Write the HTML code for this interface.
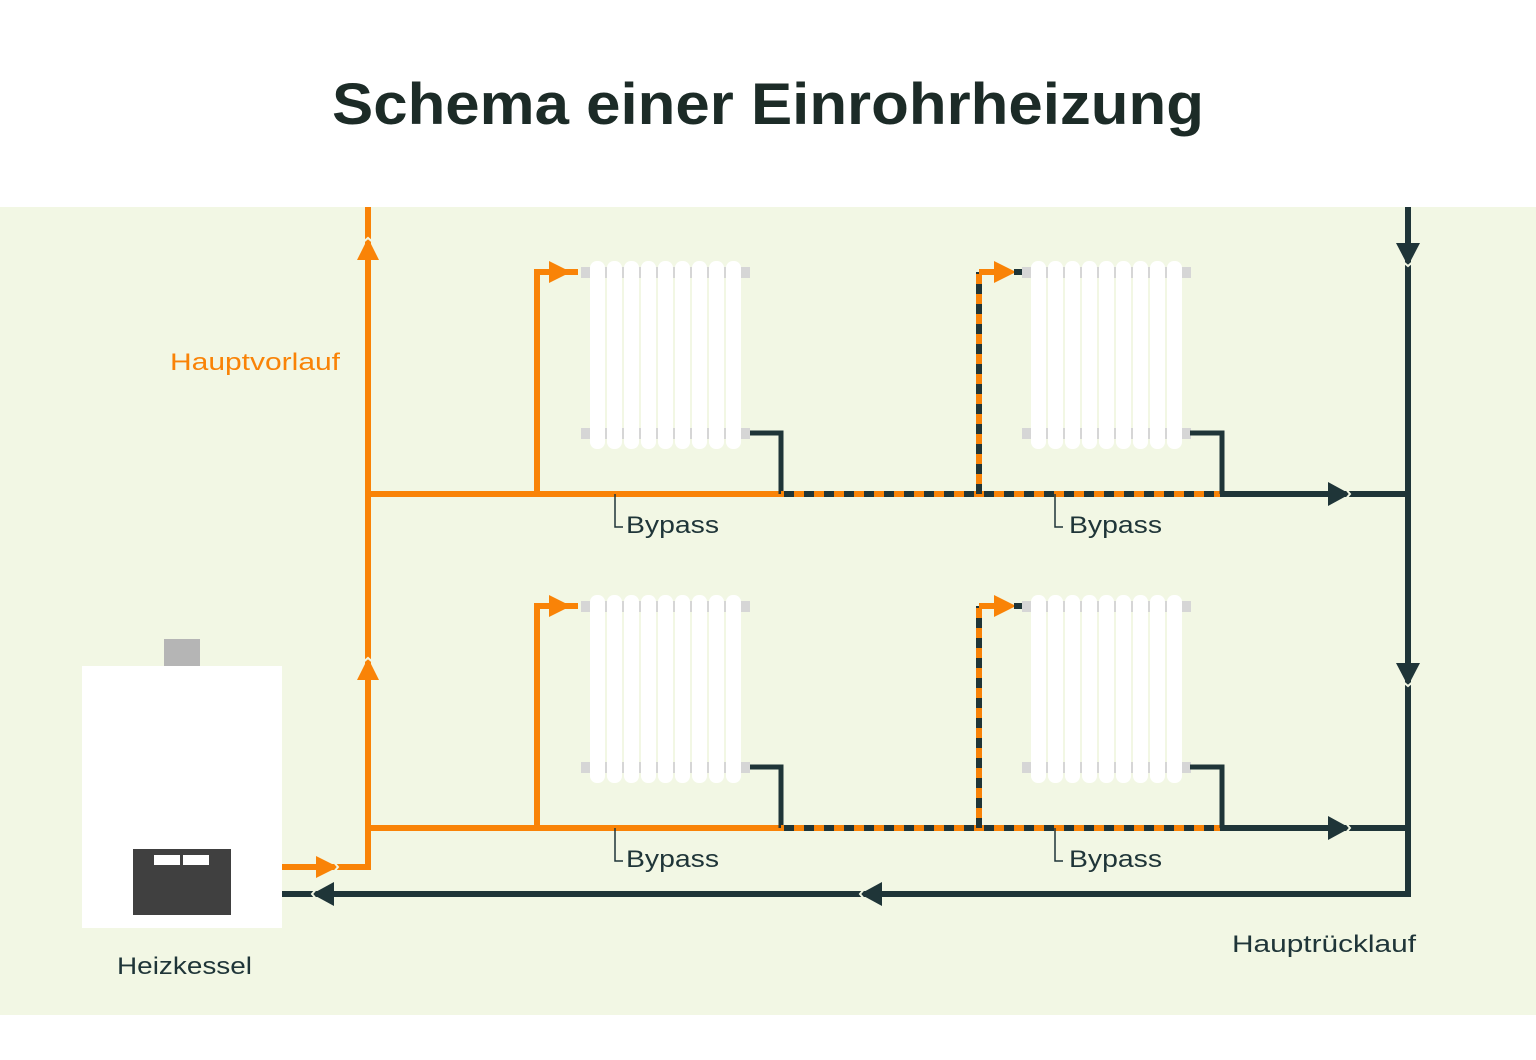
<!DOCTYPE html>
<html><head><meta charset="utf-8">
<style>
html,body{margin:0;padding:0;background:#fff;}
svg{display:block;}
text{font-family:"Liberation Sans",sans-serif;}
</style></head>
<body>
<svg width="1536" height="1060" viewBox="0 0 1536 1060" xmlns="http://www.w3.org/2000/svg">
<defs>
  <g id="rad">
    <rect x="581" y="267" width="169" height="11" fill="#d6d6d6"/>
    <rect x="581" y="428" width="169" height="11" fill="#d6d6d6"/>
    <g fill="#ffffff">
      <rect x="590" y="261" width="15" height="188" rx="7"/>
      <rect x="607" y="261" width="15" height="188" rx="7"/>
      <rect x="624" y="261" width="15" height="188" rx="7"/>
      <rect x="641" y="261" width="15" height="188" rx="7"/>
      <rect x="658" y="261" width="15" height="188" rx="7"/>
      <rect x="675" y="261" width="15" height="188" rx="7"/>
      <rect x="692" y="261" width="15" height="188" rx="7"/>
      <rect x="709" y="261" width="15" height="188" rx="7"/>
      <rect x="726" y="261" width="15" height="188" rx="7"/>
    </g>
  </g>
  <g id="rowA">
    <line x1="368" y1="494" x2="782" y2="494" stroke="#f98307" stroke-width="6"/>
    <polyline points="537,494 537,272 578,272" fill="none" stroke="#f98307" stroke-width="6"/>
    <polygon points="549,261 571,272 549,283" fill="#f98307"/>
    <use href="#rad"/>
    <polyline points="750,433 781,433 781,494" fill="none" stroke="#1f3538" stroke-width="5"/>
    <line x1="781" y1="494" x2="1220" y2="494" stroke="#f98307" stroke-width="6"/>
    <line x1="784" y1="494" x2="1220" y2="494" stroke="#1f3538" stroke-width="6" stroke-dasharray="10,10"/>
    <line x1="979" y1="494" x2="979" y2="272" stroke="#f98307" stroke-width="6"/>
    <line x1="979" y1="494" x2="979" y2="272" stroke="#1f3538" stroke-width="6" stroke-dasharray="10,10"/>
    <line x1="979" y1="272" x2="1000" y2="272" stroke="#f98307" stroke-width="6"/>
    <polygon points="994,261 1016,272 994,283" fill="#f98307"/>
    <line x1="1014" y1="272" x2="1024" y2="272" stroke="#1f3538" stroke-width="6"/>
    <use href="#rad" transform="translate(441,0)"/>
    <polyline points="1190,433 1222,433 1222,494" fill="none" stroke="#1f3538" stroke-width="5"/>
    <line x1="1220" y1="494" x2="1408" y2="494" stroke="#1f3538" stroke-width="6"/>
    <polygon points="1328,482 1350,494 1328,506" fill="#1f3538"/>
    <polyline points="1344,487 1350,494 1344,501" fill="none" stroke="#f2f7e4" stroke-width="2"/>
    <polyline points="615,494 615,527 623,527" fill="none" stroke="#1f3538" stroke-width="1.5"/>
    <text x="626" y="533" font-size="24" fill="#1f3538" textLength="93" lengthAdjust="spacingAndGlyphs">Bypass</text>
    <polyline points="1055,494 1055,527 1063,527" fill="none" stroke="#1f3538" stroke-width="1.5"/>
    <text x="1069" y="533" font-size="24" fill="#1f3538" textLength="93" lengthAdjust="spacingAndGlyphs">Bypass</text>
  </g>
</defs>

<rect x="0" y="0" width="1536" height="1060" fill="#ffffff"/>
<rect x="0" y="207" width="1536" height="808" fill="#f2f7e4"/>

<text x="768" y="124" font-size="58" font-weight="bold" fill="#1c2b27" text-anchor="middle" textLength="872" lengthAdjust="spacingAndGlyphs">Schema einer Einrohrheizung</text>

<line x1="1408" y1="207" x2="1408" y2="897" stroke="#1f3538" stroke-width="6"/>
<polygon points="1396,243 1420,243 1408,266" fill="#1f3538"/>
<polyline points="1401,260 1408,266 1415,260" fill="none" stroke="#f2f7e4" stroke-width="2"/>
<polygon points="1396,663 1420,663 1408,686" fill="#1f3538"/>
<polyline points="1401,680 1408,686 1415,680" fill="none" stroke="#f2f7e4" stroke-width="2"/>

<line x1="282" y1="894" x2="1411" y2="894" stroke="#1f3538" stroke-width="6"/>
<polygon points="334,882 312,894 334,906" fill="#1f3538"/>
<polyline points="318,887 312,894 318,901" fill="none" stroke="#f2f7e4" stroke-width="2"/>
<polygon points="882,882 860,894 882,906" fill="#1f3538"/>
<polyline points="866,887 860,894 866,901" fill="none" stroke="#f2f7e4" stroke-width="2"/>

<use href="#rowA"/>
<use href="#rowA" transform="translate(0,334)"/>

<polyline points="282,867 368,867 368,207" fill="none" stroke="#f98307" stroke-width="6"/>
<polygon points="316,856 338,867 316,878" fill="#f98307"/>
<polyline points="332,860 338,867 332,874" fill="none" stroke="#f2f7e4" stroke-width="2"/>
<polygon points="357,260 368,238 379,260" fill="#f98307"/>
<polyline points="361,244 368,238 375,244" fill="none" stroke="#f2f7e4" stroke-width="2"/>
<polygon points="357,680 368,658 379,680" fill="#f98307"/>
<polyline points="361,664 368,658 375,664" fill="none" stroke="#f2f7e4" stroke-width="2"/>

<rect x="164" y="639" width="36" height="27" fill="#b5b5b5"/>
<rect x="82" y="666" width="200" height="262" fill="#ffffff"/>
<rect x="133" y="849" width="98" height="66" fill="#404040"/>
<rect x="154" y="855" width="26" height="10" fill="#ffffff"/>
<rect x="183" y="855" width="26" height="10" fill="#ffffff"/>

<text x="170" y="370" font-size="24" fill="#f98307" textLength="170" lengthAdjust="spacingAndGlyphs">Hauptvorlauf</text>
<text x="117" y="974" font-size="24" fill="#1f3538" textLength="135" lengthAdjust="spacingAndGlyphs">Heizkessel</text>
<text x="1232" y="952" font-size="24" fill="#1f3538" textLength="184" lengthAdjust="spacingAndGlyphs">Hauptrücklauf</text>
</svg>
</body></html>
